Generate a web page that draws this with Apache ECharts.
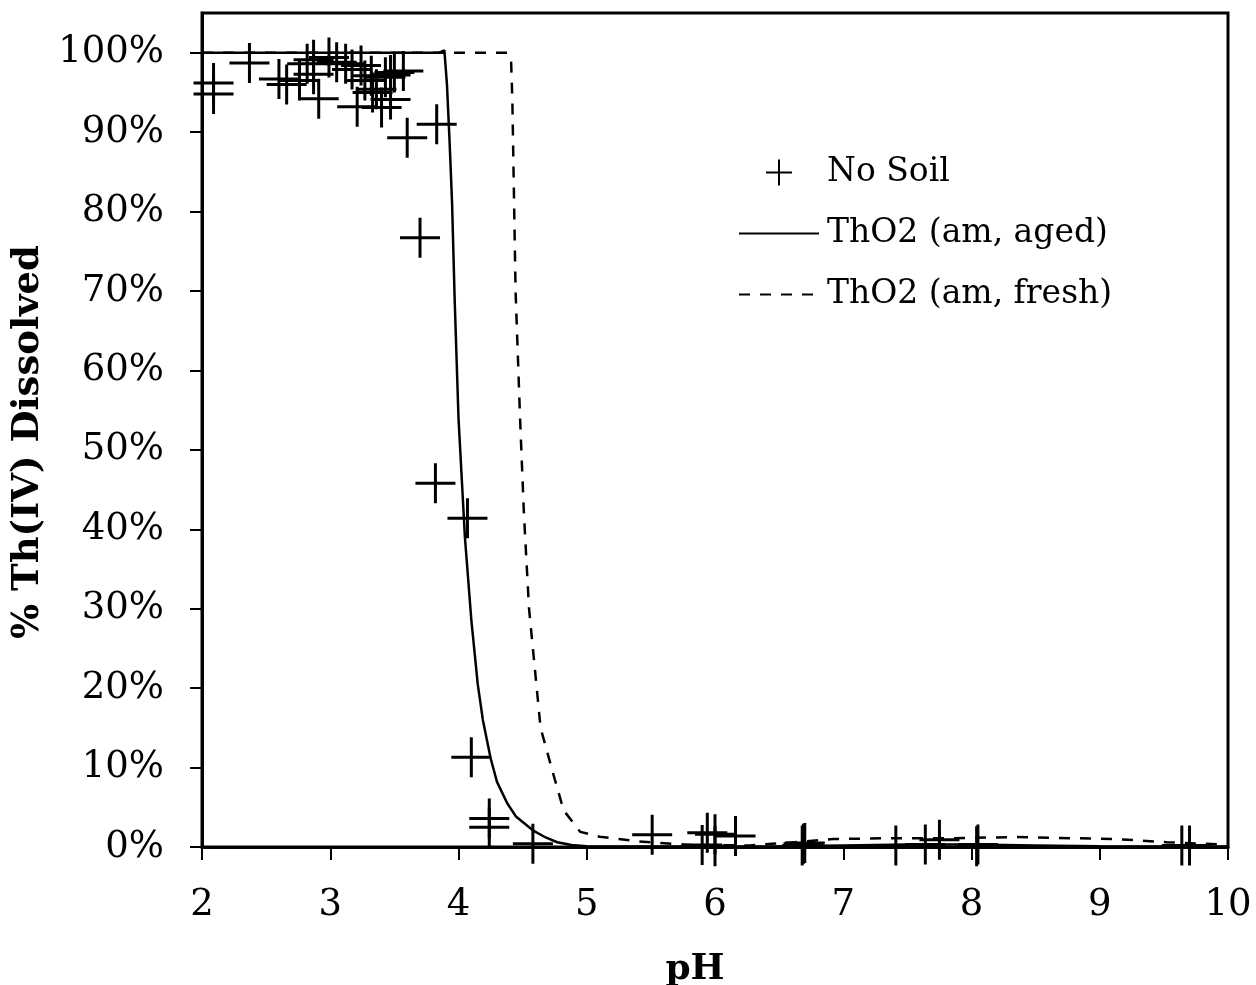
<!DOCTYPE html>
<html><head><meta charset="utf-8">
<script src="https://cdn.jsdelivr.net/npm/echarts@6/dist/echarts.min.js"></script>
<style>html,body{margin:0;padding:0;background:#fff}#c{width:1256px;height:985px}</style>
</head><body><div id="c"></div>
<script>
// No Soil measurements: pH and % Th(IV) dissolved
const noSoilPH  = [2.09, 2.09, 2.37, 2.60, 2.66, 2.76, 2.82, 2.87, 2.87, 2.91, 2.99, 3.05, 3.12, 3.17, 3.21, 3.24, 3.27, 3.32, 3.33, 3.36, 3.40, 3.43, 3.47, 3.47, 3.50, 3.57, 3.60, 3.70, 3.83, 3.82, 4.07, 4.10, 4.24, 4.24, 4.58, 5.51, 5.90, 5.94, 6.00, 6.00, 6.16, 6.68, 6.69, 6.70, 7.41, 7.64, 7.75, 8.04, 8.05, 9.64, 9.70];
const noSoilPct = [96.2, 94.8, 98.7, 96.7, 96.0, 96.5, 98.6, 99.1, 97.3, 94.2, 99.4, 98.8, 98.6, 97.9, 93.2, 98.4, 96.5, 97.1, 95.0, 95.4, 93.1, 96.9, 94.1, 97.2, 97.5, 97.7, 89.3, 76.7, 91.0, 45.8, 41.4, 11.3, 3.6, 2.5, 0.4, 1.55, 0.25, 1.8, 1.6, 0.1, 1.4, 0.2, 0.4, 0.5, 0.2, 0.3, 0.9, 0.1, 0.3, 0.2, 0.2];

// ThO2 (am, aged) model curve
const agedPH  = [2.0, 3.85, 3.89, 3.91, 3.93, 3.95, 3.97, 4.00, 4.05, 4.10, 4.15, 4.19, 4.25, 4.30, 4.38, 4.45, 4.58, 4.68, 4.77, 4.88, 5.00, 5.50, 6.00, 6.50, 7.00, 7.50, 8.00, 8.50, 9.00, 9.50, 10.0];
const agedPct = [100, 100, 100.3, 96, 89, 81, 69, 54, 39, 28.6, 20.5, 16, 11.2, 8.2, 5.5, 3.8, 2.1, 1.2, 0.6, 0.25, 0.1, 0.05, 0.05, 0.1, 0.2, 0.3, 0.3, 0.2, 0.1, 0.05, 0.05];

// ThO2 (am, fresh) model curve
const freshPH  = [2.0, 4.38, 4.41, 4.42, 4.445, 4.48, 4.51, 4.55, 4.64, 4.73, 4.82, 4.95, 5.10, 5.41, 5.80, 6.27, 6.58, 6.92, 7.31, 7.83, 8.35, 9.13, 9.52, 9.91, 10.0];
const freshPct = [100, 100, 99, 94, 70, 54, 42, 30, 15, 9.7, 4.6, 1.9, 1.3, 0.7, 0.25, 0.2, 0.55, 1.0, 1.1, 1.1, 1.25, 1.0, 0.6, 0.35, 0.3];

const xTicks = [2, 3, 4, 5, 6, 7, 8, 9, 10];
const yTicks = [0, 10, 20, 30, 40, 50, 60, 70, 80, 90, 100];

const FONT = 'DejaVu Serif';
const zip = (a, b) => a.map((v, i) => [v, b[i]]);
const plusPath = 'path://M5,0L5,10M0,5L10,5';

const chart = echarts.init(document.getElementById('c'), null, {renderer: 'canvas'});
chart.setOption({
  animation: false,
  backgroundColor: '#fff',
  grid: {left: 202, right: 28, top: 13, bottom: 138, show: true, borderColor: '#000', borderWidth: 3,
         backgroundColor: 'transparent', containLabel: false, outerBoundsMode: 'none'},
  legend: {
    orient: 'vertical', left: 738, top: 156, padding: 0, itemWidth: 80, itemHeight: 26, itemGap: 28,
    textStyle: {fontFamily: FONT, fontSize: 33, color: '#000', padding: [0, 0, 0, 3]},
    data: [
      {name: 'No Soil'},
      {name: 'ThO2 (am, aged)', itemStyle: {opacity: 0}},
      {name: 'ThO2 (am, fresh)', itemStyle: {opacity: 0}}
    ]
  },
  xAxis: {
    type: 'value', min: 2, max: 10, interval: 1,
    name: 'pH', nameLocation: 'middle', nameGap: 105,
    nameTextStyle: {fontFamily: FONT, fontSize: 36, fontWeight: 'bold', color: '#000', padding: [0, 40, 0, 0]},
    axisLine: {lineStyle: {color: '#000', width: 3}},
    axisTick: {show: true, inside: false, length: 13, lineStyle: {color: '#000', width: 2}, customValues: xTicks},
    axisLabel: {fontFamily: FONT, fontSize: 37, color: '#000', margin: 40, customValues: xTicks},
    splitLine: {show: false}
  },
  yAxis: {
    type: 'value', min: 0, max: 105, interval: 10,
    name: '% Th(IV) Dissolved', nameLocation: 'middle', nameGap: 150,
    nameTextStyle: {fontFamily: FONT, fontSize: 37, fontWeight: 'bold', color: '#000', padding: [0, 24, 0, 0]},
    axisLine: {lineStyle: {color: '#000', width: 3}},
    axisTick: {show: true, inside: false, length: 12, lineStyle: {color: '#000', width: 2}, customValues: yTicks},
    axisLabel: {fontFamily: FONT, fontSize: 37, color: '#000', margin: 38, formatter: v => v + '%', customValues: yTicks},
    splitLine: {show: false}
  },
  series: [
    {
      name: 'No Soil', type: 'scatter', data: zip(noSoilPH, noSoilPct),
      symbol: plusPath, symbolSize: 40, symbolKeepAspect: true, clip: false,
      itemStyle: {color: 'rgba(0,0,0,0)', borderColor: '#000', borderWidth: 3, opacity: 1},
      z: 3
    },
    {
      name: 'ThO2 (am, aged)', type: 'line', data: zip(agedPH, agedPct),
      symbol: 'none', smooth: false,
      lineStyle: {color: '#000', width: 2.5, type: 'solid'},
      itemStyle: {color: '#000'}, z: 2
    },
    {
      name: 'ThO2 (am, fresh)', type: 'line', data: zip(freshPH, freshPct),
      symbol: 'none', smooth: false,
      lineStyle: {color: '#000', width: 2.5, type: [11, 10]},
      itemStyle: {color: '#000'}, z: 2
    }
  ]
});
</script>
</body></html>
